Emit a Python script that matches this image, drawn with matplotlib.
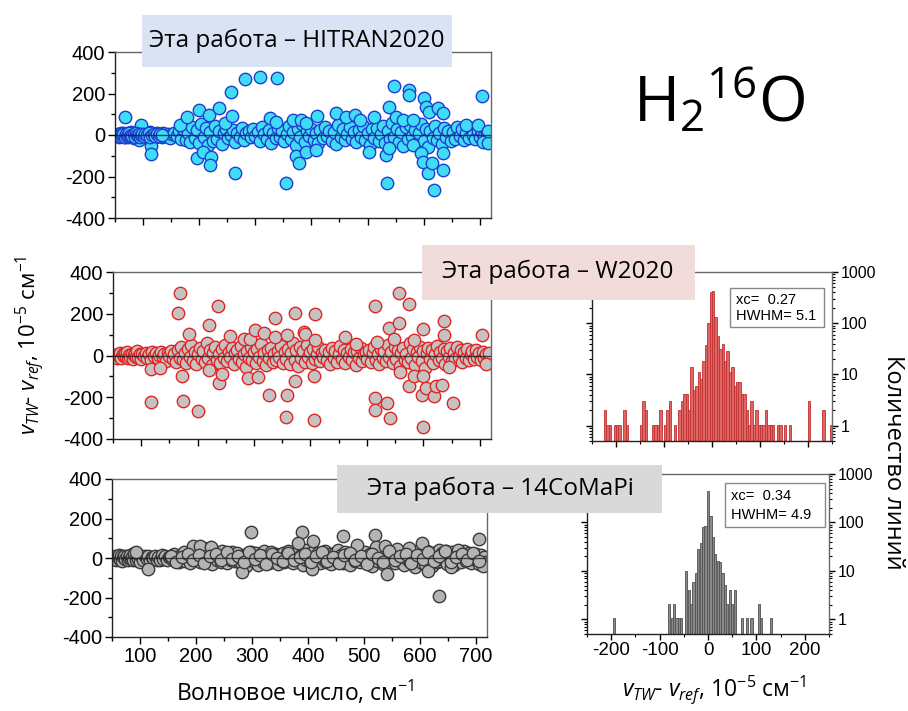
import matplotlib
matplotlib.use('Agg')
import matplotlib.pyplot as plt
from matplotlib.ticker import MultipleLocator, FixedLocator, LogLocator, NullFormatter
from matplotlib.patches import Rectangle

plt.rcParams['mathtext.fontset'] = 'custom'
plt.rcParams['mathtext.rm'] = 'Open Sans'
plt.rcParams['mathtext.it'] = 'Open Sans:italic'
plt.rcParams['font.family'] = ['Liberation Sans', 'DejaVu Sans']
plt.rcParams['axes.unicode_minus'] = False

# ---------------- data ----------------
# Panel 1: This work - HITRAN2020
hit_x = [55, 58, 60, 62, 64, 66, 68, 70, 72, 74, 76, 78, 80, 82, 84, 86, 88, 90, 92, 94, 96, 98, 100, 103, 106,
         109, 112, 115, 118, 121, 124, 127, 130, 133, 136, 140, 144, 148, 152, 156, 160, 164, 168, 172, 176, 180,
         184, 188, 192, 196, 200, 204, 208, 212, 216, 220, 224, 228, 232, 236, 240, 244, 248, 252, 256, 260, 264,
         268, 272, 276, 280, 284, 288, 292, 296, 300, 304, 308, 312, 316, 320, 324, 328, 332, 336, 340, 344, 348,
         352, 356, 360, 364, 368, 372, 376, 380, 384, 388, 392, 396, 400, 404, 408, 412, 416, 420, 424, 428, 432,
         436, 440, 444, 448, 452, 456, 460, 464, 468, 472, 476, 480, 484, 488, 492, 496, 500, 504, 508, 512, 516,
         520, 524, 528, 532, 536, 540, 544, 548, 552, 556, 560, 564, 568, 572, 576, 580, 584, 588, 592, 596, 600,
         604, 608, 612, 616, 620, 624, 628, 632, 636, 640, 644, 648, 652, 656, 660, 664, 668, 672, 676, 680, 684,
         688, 692, 696, 700, 704, 708, 712, 716,
         67, 96, 93, 115, 115, 165, 178, 200, 197, 206, 217, 221, 219, 236, 246, 256, 258, 264, 282, 309, 339,
         327, 337, 355, 367, 372, 377, 381, 390, 390, 408, 410, 444, 462, 477, 486, 503, 512, 533, 534, 539, 539,
         548, 551, 563, 573, 574, 581, 581, 596, 599, 600, 605, 607, 610, 615, 619, 625, 634, 634, 634, 676, 697,
         704, 706, 715, 715,
         56, 57, 59, 61, 63, 65, 67, 69, 71, 73, 75, 77, 79, 81, 83, 85, 87, 89, 91, 93, 95, 97, 99, 101, 104,
         107, 110, 113, 116, 119, 122, 125, 128, 131, 134]
hit_y = [5, -8, 10, -3, 12, -10, 4, -5, 8, -12, 2, 15, -6, 6, -15, 9, -2, -9, 3, 11, -4, 7, -11, 1, 9,
         -7, 14, -3, 5, -8, 10, -5, 2, -10, 8, -4, 6, -14, 3, 12, -6, 20, -20, 30, -25, 10,
         -35, 40, -15, 25, -40, 55, -8, 35, -50, 15, -30, 45, -20, 20, -45, 10, 30, -15, 0, 25, -35,
         12, -10, 35, -25, 8, 20, -12, 30, -5, 15, -30, 40, 5, -20, 25, -40, 10, -15, 35, -8, 20,
         -30, 5, 45, -20, 15, -50, 30, -10, 55, -35, 20, -5, 30, -25, 10, -40, 25, -15, 40, -5, 20,
         -30, 15, -45, 50, -10, 30, -25, 5, 40, -20, 15, -35, 25, -10, 45, -25, 10, -50, 30, -15, 35,
         -30, 5, 45, -40, 20, -20, 60, -10, 30, -35, 15, -55, 40, -20, 50, -5, 25, -40, 10, 55, -30,
         30, -60, 20, -15, 45, -25, 10, -45, 35, -10, 20, -30, 15, -20, 40, -5, 30, -25, 10, -15, 35,
         0, -20, 20, -10, 15, -5, 10, -15,
         85, 48, -24, -53, -93, 48, 88, 120, -112, -80, 96, -104, -144, 128, 56, 208, 91, -184, 272, 280, 275,
         80, 64, -229, 72, -101, -136, 72, -80, 56, -72, 91, 104, 88, 96, 72, -80, 88, -96, -232, 136, -64,
         235, 88, 72, 216, 192, 72, -48, -88, -128, 176, 136, -184, 112, -133, -264, 128, -88, -168, 104, 48, 48,
         187, -32, -37, 21,
         -2, 4, -6, 7, -1, 3, -9, 6, -4, 2, 8, -7, 1, -3, 5, -8, 11, 0, -6, 4, -10, 2, 6, -5, 3,
         -2, 8, -9, 1, 7, -4, 3, -7, 5, -1]

# Panel 2: This work - W2020
w_x = [55, 57, 59, 61, 63, 65, 67, 69, 71, 73, 75, 77, 79, 81, 83, 85, 87, 89, 91, 93, 95, 97, 99, 102, 105,
       108, 111, 114, 117, 120, 123, 126, 129, 132, 135, 138, 141, 144, 147, 150, 153, 156, 159, 162, 165, 168,
       171, 174, 177, 180, 183, 186, 189, 192, 195, 198, 201, 204, 207, 210, 213, 216, 219, 222, 225, 228, 231,
       234, 237, 240, 243, 246, 249, 252, 255, 258, 261, 264, 267, 270, 273, 276, 279, 282, 285, 288, 291, 294,
       297, 300, 303, 306, 309, 312, 315, 318, 321, 324, 327, 330, 333, 336, 339, 342, 345, 348, 351, 354, 357,
       360, 363, 366, 369, 372, 375, 378, 381, 384, 387, 390, 393, 396, 399, 402, 405, 408, 411, 414, 417, 420,
       423, 426, 429, 432, 435, 438, 441, 444, 447, 450, 453, 456, 459, 462, 465, 468, 471, 474, 477, 480, 483,
       486, 489, 492, 495, 498, 501, 504, 507, 510, 513, 516, 519, 522, 525, 528, 531, 534, 537, 540, 543, 546,
       549, 552, 555, 558, 561, 564, 567, 570, 573, 576, 579, 582, 585, 588, 591, 594, 597, 600, 603, 606, 609,
       612, 615, 618, 621, 624, 627, 630, 633, 636, 639, 642, 645, 648, 651, 654, 657, 660, 663, 666, 669, 672,
       675, 678, 681, 684, 687, 690, 693, 696, 699, 702, 705, 708, 711, 714, 717,
       118, 117, 134, 168, 165, 173, 174, 185, 200, 221, 221, 236, 237, 244, 258, 282, 290, 292, 302, 307, 318,
       327, 338, 338, 356, 359, 358, 372, 372, 389, 390, 408, 407, 407, 408, 462, 480, 515, 514, 514, 518, 535,
       539, 541, 548, 557, 557, 558, 574, 575, 584, 584, 599, 600, 599, 597, 605, 619, 622, 634, 636, 637, 652,
       646, 704, 712]
w_y = [3, -10, 8, -4, 12, -14, 6, -2, 10, -8, 15, -12, 4, -6, 9, -15, 2, 12, -5, 20, -9, 5, -18, 8, -3,
       14, -10, 6, -20, 18, -4, 10, -12, 3, 15, -8, 5, -25, 12, -2, 20, -15, 8, -30, 25, -10,
       40, -20, 10, -35, 30, -5, 50, -25, 15, -40, 5, 35, -15, 20, -30, 60, -10, 25, -45, 10, 40,
       -20, 5, -35, 30, -10, 50, -25, 15, -5, 35, -40, 10, 25, -15, 45, -30, 5, -55, 20, -10, 40,
       -20, 15, -35, 30, -5, 55, -25, 10, -45, 25, -10, 35, -30, 5, -20, 20, -5, 45, -35, 15, -15,
       30, -40, 10, 60, -20, 25, -50, 40, -10, 20, -30, 50, -5, 15, -35, 30, -15, 5, 40, -25, 10,
       -5, 25, -20, 15, -40, 35, -10, 20, -30, 5, 45, -15, 25, -35, 10, -5, 30, -20, 15, -45, 20,
       -10, 35, -25, 5, 15, -15, 25, -30, 10, 40, -20, 5, -40, 30, -10, 20, -25, 50, -5, 15, -35,
       40, -15, 25, -50, 10, 35, -20, 5, -30, 60, -10, 30, -45, 15, -5, 40, -25, 20, -60, 10, 35,
       -15, 25, -35, 5, 45, -20, 15, -10, 30, -40, 20, -5, 35, -25, 10, -15, 40, -5, 25, -30, 15,
       -10, 30, -20, 5, 20, -15, 25, -5, 10, -20, 15, -10, 5, -25, 10,
       -224, -65, -60, 300, 203, -98, -220, 102, -268, 146, -70, 236, -130, -89, 93, 81, -106, 81, 122, -102, 106,
       -187, 179, 89, -296, -187, 98, 203, -122, 114, 101, 200, -309, -98, 73, 89, 57, 236, -203, -260, 65, -228,
       130, -301, 81, 301, 154, -81, 249, -146, -98, 73, 125, -98, -341, -187, -154, -195, -146, -141, 163, 98, -228,
       -57, 98, -41]

# Panel 3: This work - 14CoMaPi
c_x = [54, 56, 58, 60, 62, 64, 66, 68, 70, 72, 74, 76, 78, 80, 82, 84, 86, 88, 90, 92, 94, 96, 98, 100, 103,
       106, 109, 112, 115, 118, 121, 124, 127, 130, 133, 136, 139, 142, 145, 148, 151, 154, 157, 160, 163, 166,
       169, 172, 175, 178, 181, 184, 187, 190, 193, 196, 199, 202, 205, 208, 211, 214, 217, 220, 223, 226, 229,
       232, 235, 238, 241, 244, 247, 250, 253, 256, 259, 262, 265, 268, 271, 274, 277, 280, 283, 286, 289, 292,
       295, 298, 301, 304, 307, 310, 313, 316, 319, 322, 325, 328, 331, 334, 337, 340, 343, 346, 349, 352, 355,
       358, 361, 364, 367, 370, 373, 376, 379, 382, 385, 388, 391, 394, 397, 400, 403, 406, 409, 412, 415, 418,
       421, 424, 427, 430, 433, 436, 439, 442, 445, 448, 451, 454, 457, 460, 463, 466, 469, 472, 475, 478, 481,
       484, 487, 490, 493, 496, 499, 502, 505, 508, 511, 514, 517, 520, 523, 526, 529, 532, 535, 538, 541, 544,
       547, 550, 553, 556, 559, 562, 565, 568, 571, 574, 577, 580, 583, 586, 589, 592, 595, 598, 601, 604, 607,
       610, 613, 616, 619, 622, 625, 628, 631, 634, 637, 640, 643, 646, 649, 652, 655, 658, 661, 664, 667, 670,
       673, 676, 679, 682, 685, 688, 691, 694, 697, 700, 703, 706, 709, 712, 715, 718,
       299, 390, 383, 410, 408, 463, 487, 520, 521, 538, 542, 603, 615, 635, 706, 713, 195, 214, 115, 282, 92,
       208, 226, 560, 580, 655, 668,
       155, 165, 175, 185, 195, 205, 215, 225, 235, 245, 255, 265, 275, 285, 295, 305, 315, 325, 335, 345,
       355, 365, 375, 385, 395, 405, 415, 425, 435, 445, 455, 465, 475, 485, 495, 505, 515, 525, 535, 545,
       555, 565, 575, 585, 595, 605, 615, 625, 635, 645, 655, 665, 675, 685, 695, 705]
c_y = [-5, 8, -12, 4, 15, -8, 10, -15, 3, 12, -6, 9, -10, 2, 14, -4, 6, -12, 25, -8, 10, -3, 15, -20, 5,
       -10, 12, -4, 8, -15, 6, -2, 10, -8, 4, -12, 15, -5, 8, -10, 3, 12, -6, 18, -14, 5,
       -20, 10, -8, 30, -15, 6, 20, -25, 12, -5, 35, -10, 15, -20, 8, 25, -15, 40, -5, 20, -30,
       10, 30, -10, 15, -20, 35, -5, 12, -25, 20, -8, 30, -15, 10, 25, -20, 5, -30, 15, -40, 20,
       -10, 30, 5, -15, 25, -35, 10, 20, -20, 35, -5, 15, -25, 30, -10, 5, 20, -30, 15, -8, 25,
       -20, 10, 35, -15, 5, -25, 20, -10, 30, -5, 15, -35, 40, -10, 20, -20, 10, 30, -15, 5, 25,
       -25, 15, -5, 35, -20, 10, 20, -30, 5, 25, -10, 40, -15, 15, -25, 30, -5, 20, -35, 10, 25,
       -15, 5, 35, -20, 15, -10, 30, -25, 10, 20, -40, 5, 40, -15, 25, -5, 35, -30, 15, -20, 10,
       30, -10, 20, -25, 5, 35, -15, 15, -35, 25, -5, 40, -20, 10, 30, -45, 20, -10, 45, -25, 15,
       -30, 35, -5, 20, -40, 10, 30, -20, 40, -15, 25, -10, 35, -30, 15, 5, 30, -35, 20, -10, 25,
       -20, 10, 35, -15, 5, 25, -25, 15, -5, 20, 10, -30, 15, -10, 5, -20,
       133, 132, 77, 85, -56, 111, 68, 115, 56, 60, -80, 77, -68, -193, 94, -43, 63, 51, -56, -73, 30,
       60, 58, 45, 50, -45, 40,
       12, -18, 5, 22, -9, 15, -25, 8, 18, -12, 28, -6, 10, -20, 32, -3, 14, -28, 20, 2,
       -15, 26, -10, 6, 18, -22, 9, 30, -14, 4, -26, 16, 24, -8, 12, -30, 20, 0, -18, 34,
       -12, 8, 22, -24, 15, -6, 28, -16, 10, 36, -20, 5, 18, -10, 26, -14]

# Histogram of differences, W2020 (bin centres, counts)
w_hist_centers = [-222.5, -217.5, -212.5, -202.5, -197.5, -192.5, -182.5, -177.5, -147.5, -142.5, -137.5,
                  -122.5, -117.5, -112.5, -107.5, -97.5, -92.5, -87.5, -77.5, -67.5, -62.5, -57.5, -52.5,
                  -47.5, -42.5, -37.5, -32.5, -27.5, -22.5, -17.5, -12.5, -7.5, -2.5, 2.5, 7.5, 12.5, 17.5,
                  22.5, 27.5, 32.5, 37.5, 42.5, 47.5, 52.5, 57.5, 62.5, 67.5, 72.5, 77.5, 82.5, 87.5, 92.5,
                  97.5, 102.5, 107.5, 112.5, 117.5, 122.5, 127.5, 137.5, 142.5, 152.5, 162.5, 202.5, 232.5,
                  247.5]
w_hist_counts = [2, 1, 1, 1, 1, 1, 2, 1, 1, 3, 2,
                 1, 1, 1, 2, 1, 2, 3, 1, 2, 3, 4, 4,
                 2, 14, 5, 6, 11, 8, 18, 37, 100, 400, 420, 130, 57, 31,
                 39, 18, 28, 11, 14, 6, 7, 7, 4, 4, 2, 1, 3, 1, 2,
                 1, 1, 1, 2, 1, 1, 1, 1, 1, 1, 1, 3, 2,
                 1]

# Histogram of differences, 14CoMaPi
c_hist_centers = [-195, -80, -75, -70, -65, -60, -55, -45, -40, -35, -30, -25, -20, -15, -10, -5, 0, 5, 10,
                  15, 20, 25, 30, 35, 40, 45, 50, 55, 70, 80, 90, 105, 110, 130]
c_hist_counts = [1, 2, 1, 2, 1, 1, 1, 10, 4, 2, 6, 9, 28, 37, 79, 83, 450, 133, 51,
                 22, 16, 15, 9, 5, 2, 4, 2, 4, 1, 1, 1, 2, 1, 1]

x_ticks = [100, 200, 300, 400, 500, 600, 700]
y_ticks = [-400, -200, 0, 200, 400]
hist_x_ticks = [-200, -100, 0, 100, 200]
hist_y_ticks = [1, 10, 100, 1000]

fit_w = ('0.27', '5.1')
fit_c = ('0.34', '4.9')

# ---------------- figure ----------------
W, H = 908, 711
fig = plt.figure(figsize=(W / 100, H / 100), dpi=100)


def ax_px(l, t, r, b):
    return fig.add_axes([l / W, 1 - b / H, (r - l) / W, (b - t) / H])


def style_spines(ax):
    for sp in ax.spines.values():
        sp.set_linewidth(1.0)
        sp.set_color('#222222')
    ax.spines['top'].set_color('#666666')
    ax.spines['right'].set_color('#666666')


def scatter_panel(rect, xs, ys, fc, ec, show_labels):
    ax = ax_px(*rect)
    ax.scatter(xs, ys, s=80, facecolor=fc, edgecolor=ec, linewidth=1.0, zorder=2)
    ax.axhline(0, color='#202020', lw=1.0, zorder=3, alpha=0.8)
    ax.set_xlim(50, 720)
    ax.set_ylim(-400, 400)
    ax.xaxis.set_major_locator(FixedLocator(x_ticks))
    ax.xaxis.set_minor_locator(MultipleLocator(50))
    ax.yaxis.set_major_locator(FixedLocator(y_ticks))
    ax.yaxis.set_minor_locator(MultipleLocator(100))
    ax.tick_params(which='major', direction='out', length=5, width=1.0, labelsize=14.5,
                   top=False, right=False, pad=2)
    ax.tick_params(which='minor', direction='out', length=3, width=1.0, top=False, right=False)
    if not show_labels:
        ax.set_xticklabels([])
    style_spines(ax)
    return ax


def hist_panel(rect, centers, counts, fc, ec, show_labels):
    ax = ax_px(*rect)
    ax.set_yscale('log')
    ax.bar(centers, counts, width=4.6, bottom=0.05, color=fc, edgecolor=ec, linewidth=0.6, zorder=2)
    ax.set_xlim(-250, 250)
    ax.set_ylim(0.5, 1000)
    ax.xaxis.set_major_locator(FixedLocator(hist_x_ticks))
    ax.xaxis.set_minor_locator(MultipleLocator(50))
    ax.yaxis.set_major_locator(FixedLocator(hist_y_ticks))
    ax.yaxis.set_minor_locator(LogLocator(base=10, subs=range(2, 10)))
    ax.yaxis.set_minor_formatter(NullFormatter())
    ax.set_yticklabels([str(v) for v in hist_y_ticks])
    ax.tick_params(axis='y', which='both', left=True, right=True, labelleft=False, labelright=True,
                   direction='out', labelsize=11.5)
    ax.tick_params(axis='x', which='both', top=False, direction='out', labelsize=13.5)
    ax.tick_params(which='major', length=4, width=1.0, pad=2)
    ax.tick_params(which='minor', length=2.5, width=0.8)
    if not show_labels:
        ax.set_xticklabels([])
    style_spines(ax)
    return ax


ax1 = scatter_panel((115, 52, 491, 218), hit_x, hit_y, '#3fdcf5', '#1f3fd0', False)
ax2 = scatter_panel((113, 272, 491, 439), w_x, w_y, '#c6c2c2', '#e02525', False)
ax3 = scatter_panel((112, 479, 487, 637), c_x, c_y, '#b4b4b4', '#3a3a3a', True)

h2 = hist_panel((592, 272, 832, 441), w_hist_centers, w_hist_counts, '#e06666', '#c03030', False)
h3 = hist_panel((587, 474, 829, 634), c_hist_centers, c_hist_counts, '#8a8a8a', '#505050', True)


def fig_box(l, t, r, b, color):
    fig.add_artist(Rectangle((l / W, 1 - b / H), (r - l) / W, (b - t) / H, transform=fig.transFigure,
                             facecolor=color, edgecolor='none', zorder=5))


def fig_text(x, y, s, **kw):
    return fig.text(x / W, 1 - y / H, s, **kw)


# stats boxes
def stats_box(l, t, r, b, xc, hw):
    fig.add_artist(Rectangle((l / W, 1 - b / H), (r - l) / W, (b - t) / H, transform=fig.transFigure,
                             facecolor='white', edgecolor='#888888', linewidth=1.0, zorder=5))
    fig_text(l + 6, t + (b - t) * 0.30, 'xc=  ' + xc, ha='left', va='center', fontsize=10.5, zorder=6)
    fig_text(l + 6, t + (b - t) * 0.72, 'HWHM= ' + hw, ha='left', va='center', fontsize=10.5, zorder=6)


stats_box(730, 288, 824, 327, *fit_w)
stats_box(725, 483, 825, 527, *fit_c)

# panel labels
calib = ['Open Sans', 'DejaVu Sans']
fig_box(142, 15, 452, 67, '#dae3f3')
fig_text(297, 41, 'Эта работа – HITRAN2020', ha='center', va='center', fontsize=17.5, family=calib, zorder=6)
fig_box(422, 245, 695, 300, '#f2dcdb')
fig_text(558, 272, 'Эта работа – W2020', ha='center', va='center', fontsize=17.5, family=calib, zorder=6)
fig_box(337, 465, 662, 513, '#d9d9d9')
fig_text(500, 489, 'Эта работа – 14CoMaPi', ha='center', va='center', fontsize=17.5, family=calib, zorder=6)

# molecule
fig_text(633, 122, r'$\mathregular{H_2{}^{16}O}$', ha='left', va='baseline', fontsize=45, family=calib)

# axis labels
dlabel = r'$v_{TW}$- $v_{ref}$, 10$^{-5}$ см$^{-1}$'
fig_text(30, 345, dlabel, rotation=90, ha='center', va='center', fontsize=16, family=calib)
fig_text(714, 690, dlabel, ha='center', va='center', fontsize=16.5, family=calib)
fig_text(295, 693, 'Волновое число, см$^{-1}$', ha='center', va='center', fontsize=16.5, family=calib)
fig_text(893, 462, 'Количество линий', rotation=-90, ha='center', va='center', fontsize=17, family=calib)

fig.savefig('out.png', dpi=100)
